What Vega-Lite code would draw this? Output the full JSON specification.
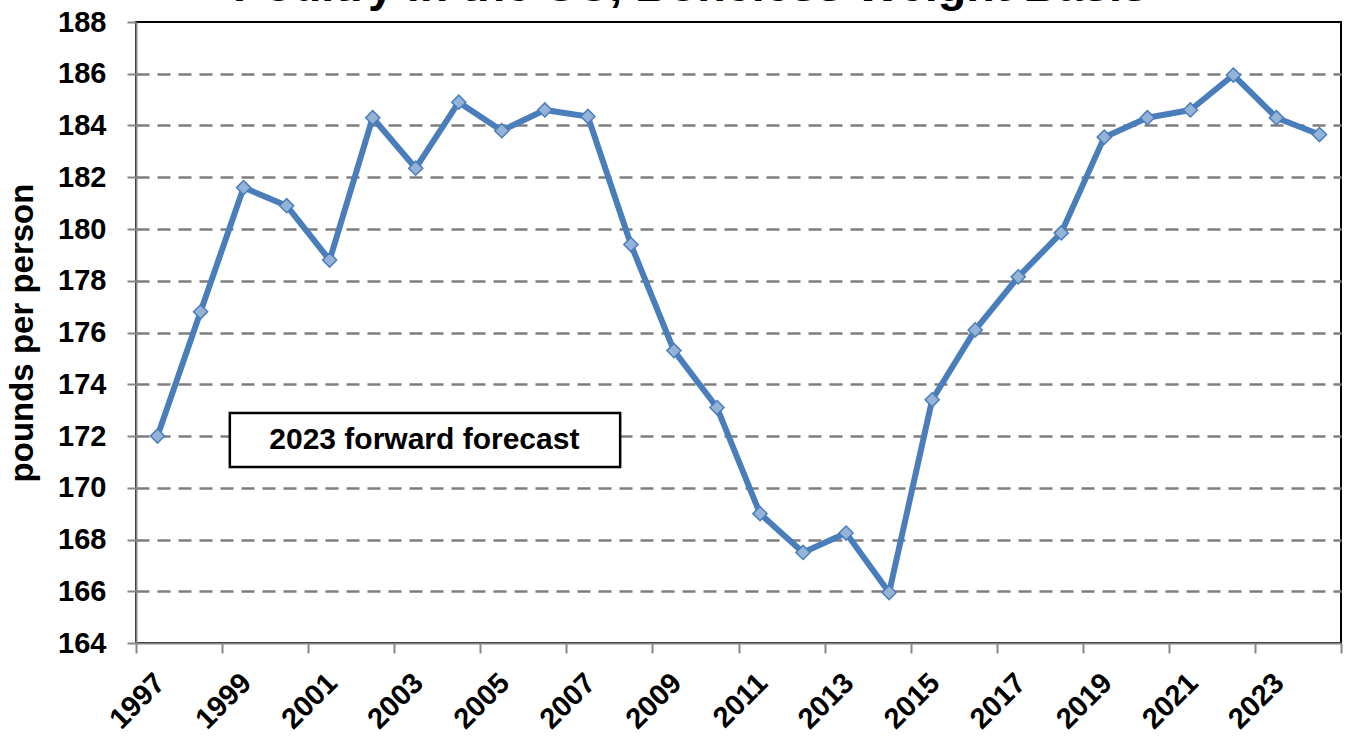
{
  "$schema": "https://vega.github.io/schema/vega-lite/v6.json",
  "autosize": "none",
  "padding": {"left": 136, "top": 22, "right": 9, "bottom": 98},
  "width": 1205,
  "height": 621,
  "background": "white",
  "config": {
    "font": "Liberation Sans",
    "view": {"stroke": "black", "strokeWidth": 2}
  },
  "title": {
    "text": "Poultry in the US, Boneless Weight Basis",
    "font": "Liberation Sans",
    "fontSize": 46.7,
    "fontWeight": "bold",
    "color": "black",
    "anchor": "middle",
    "frame": "group",
    "baseline": "alphabetic",
    "offset": 0,
    "dx": -48,
    "dy": 40
  },
  "data": {
    "values": [
      {"year": 1997, "value": 172.0},
      {"year": 1998, "value": 176.8},
      {"year": 1999, "value": 181.6},
      {"year": 2000, "value": 180.9},
      {"year": 2001, "value": 178.8},
      {"year": 2002, "value": 184.3},
      {"year": 2003, "value": 182.35},
      {"year": 2004, "value": 184.9},
      {"year": 2005, "value": 183.8},
      {"year": 2006, "value": 184.6},
      {"year": 2007, "value": 184.35},
      {"year": 2008, "value": 179.4},
      {"year": 2009, "value": 175.3},
      {"year": 2010, "value": 173.1},
      {"year": 2011, "value": 169.0},
      {"year": 2012, "value": 167.5},
      {"year": 2013, "value": 168.25},
      {"year": 2014, "value": 165.95},
      {"year": 2015, "value": 173.4},
      {"year": 2016, "value": 176.1},
      {"year": 2017, "value": 178.15},
      {"year": 2018, "value": 179.85},
      {"year": 2019, "value": 183.55},
      {"year": 2020, "value": 184.3},
      {"year": 2021, "value": 184.6},
      {"year": 2022, "value": 185.95},
      {"year": 2023, "value": 184.3},
      {"year": 2024, "value": 183.65}
    ]
  },
  "encoding": {
    "x": {
      "field": "year",
      "type": "quantitative",
      "scale": {"domain": [1996.5, 2024.5], "nice": false, "zero": false},
      "axis": {
        "title": null,
        "values": [1996.5, 1998.5, 2000.5, 2002.5, 2004.5, 2006.5, 2008.5, 2010.5, 2012.5, 2014.5, 2016.5, 2018.5, 2020.5, 2022.5, 2024.5],
        "labelExpr": "datum.value > 2024 ? '' : format(datum.value + 0.5, 'd')",
        "labelOffset": 14,
        "labelAngle": -45,
        "labelAlign": "right",
        "labelBaseline": "top",
        "labelPadding": 15,
        "labelFontSize": 29,
        "labelFontWeight": "bold",
        "labelColor": "black",
        "labelFont": "Liberation Sans",
        "labelOverlap": false,
        "labelBound": false,
        "labelFlush": false,
        "grid": false,
        "domainColor": "#868686",
        "domainWidth": 2,
        "tickColor": "#868686",
        "tickWidth": 2,
        "tickSize": 10
      }
    },
    "y": {
      "field": "value",
      "type": "quantitative",
      "scale": {"domain": [164, 188], "nice": false, "zero": false},
      "axis": {
        "title": "pounds per person",
        "titleFontSize": 33,
        "titleFontWeight": "bold",
        "titleColor": "black",
        "titleFont": "Liberation Sans",
        "titlePadding": 18,
        "values": [164, 166, 168, 170, 172, 174, 176, 178, 180, 182, 184, 186, 188],
        "labelFontSize": 29,
        "labelFontWeight": "bold",
        "labelColor": "black",
        "labelFont": "Liberation Sans",
        "labelPadding": 21,
        "labelOverlap": false,
        "labelFlush": false,
        "labelBound": false,
        "domainColor": "#868686",
        "domainWidth": 2,
        "tickColor": "#868686",
        "tickWidth": 2,
        "tickSize": 9,
        "grid": true,
        "gridColor": "#7F7F7F",
        "gridWidth": 2.5,
        "gridDash": [13, 8],
        "gridOpacity": {"condition": {"test": "datum.value >= 188 || datum.value <= 164", "value": 0}, "value": 1}
      }
    }
  },
  "layer": [
    {
      "mark": {"type": "line", "color": "#4A7EBB", "strokeWidth": 6, "strokeJoin": "round", "strokeCap": "round"}
    },
    {
      "mark": {"type": "point", "shape": "diamond", "size": 200, "filled": true, "fill": "#95B3D7", "stroke": "#4A7EBB", "strokeWidth": 1.5, "opacity": 1}
    },
    {
      "data": {"values": [{"x1": 1998.68, "x2": 2007.75, "y1": 172.89, "y2": 170.8}]},
      "mark": {"type": "rect", "fill": "white", "stroke": "black", "strokeWidth": 2.5},
      "encoding": {
        "x": {"field": "x1", "type": "quantitative"},
        "x2": {"field": "x2"},
        "y": {"field": "y1", "type": "quantitative"},
        "y2": {"field": "y2"}
      }
    },
    {
      "data": {"values": [{"label": "2023 forward forecast", "tx": 2003.2, "ty": 171.85}]},
      "mark": {"type": "text", "font": "Liberation Sans", "fontSize": 30, "fontWeight": "bold", "color": "black", "align": "center", "baseline": "middle"},
      "encoding": {
        "x": {"field": "tx", "type": "quantitative"},
        "y": {"field": "ty", "type": "quantitative"},
        "text": {"field": "label"}
      }
    }
  ]
}
